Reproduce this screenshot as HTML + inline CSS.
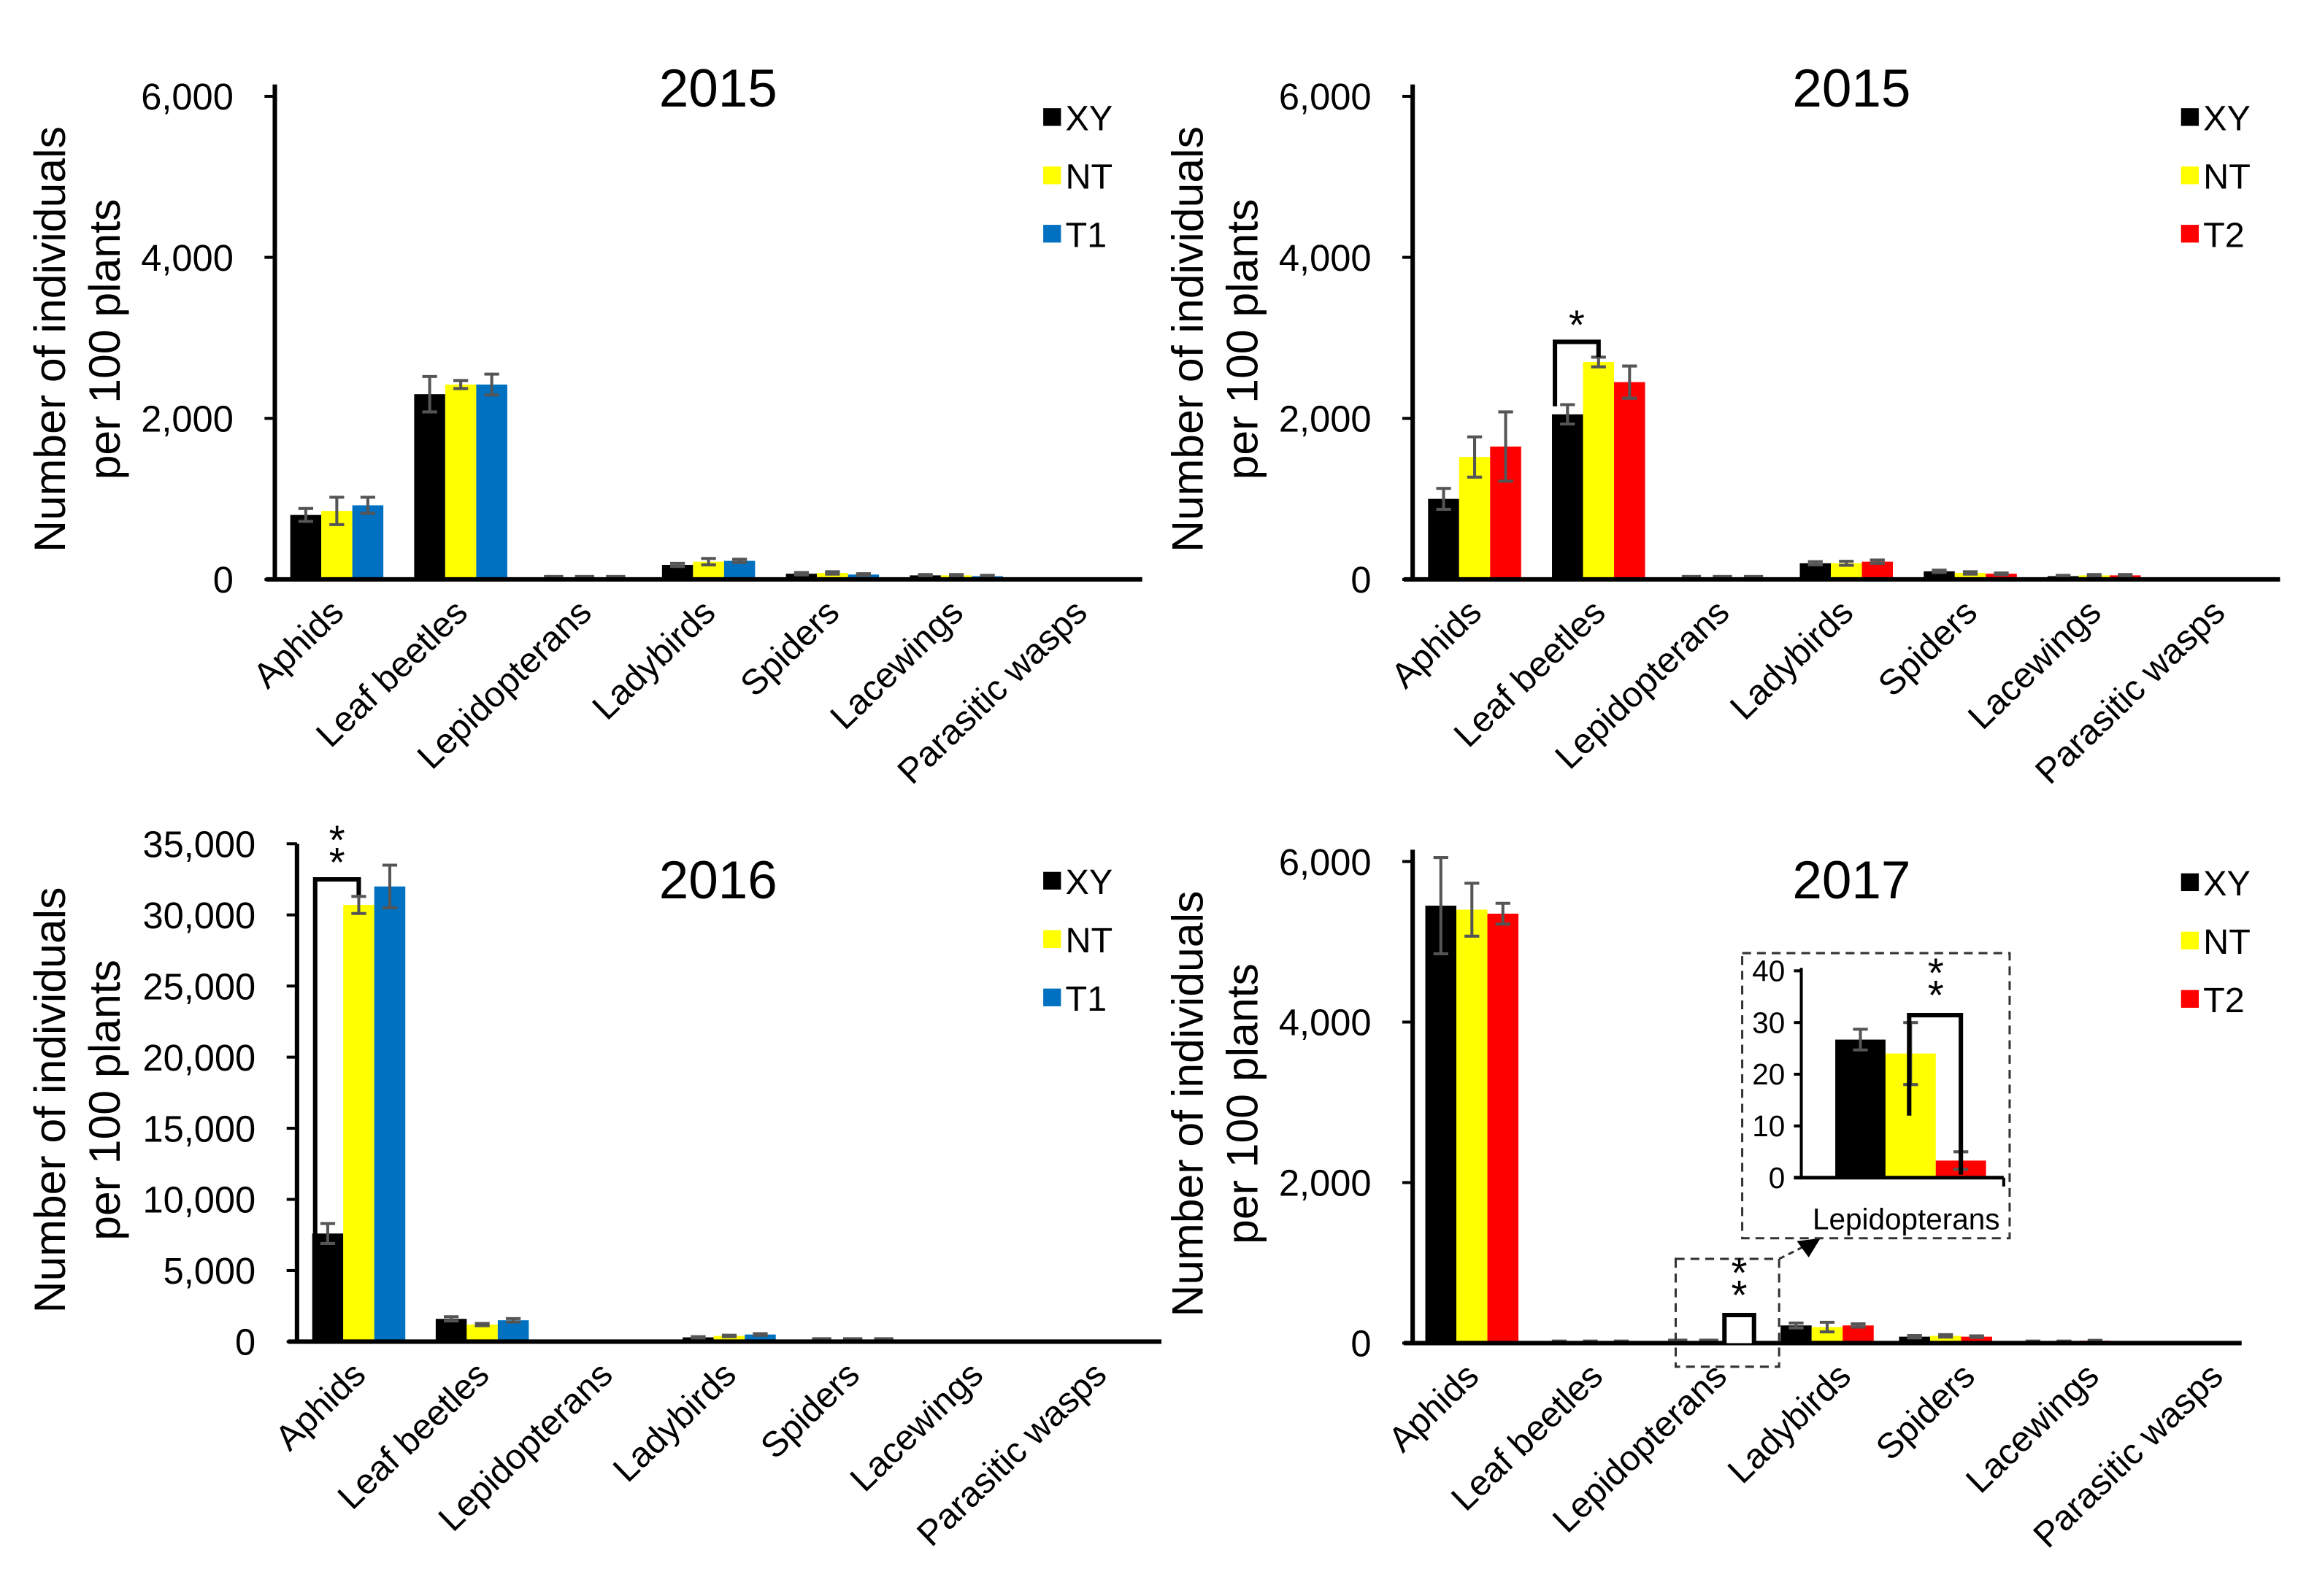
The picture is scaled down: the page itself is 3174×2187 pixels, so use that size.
<!DOCTYPE html>
<html><head><meta charset="utf-8"><style>
html,body{margin:0;padding:0;background:#fff;}
svg{display:block;}
text{font-family:"Liberation Sans",Arial,sans-serif;fill:#000;}
</style></head><body>
<svg id="fig" width="3174" height="2187" viewBox="0 0 1568 1080" xmlns="http://www.w3.org/2000/svg"></svg>
<script>
const categories = ["Aphids","Leaf beetles","Lepidopterans","Ladybirds","Spiders","Lacewings","Parasitic wasps"];
const seriesA = ["XY","NT","T1"];
const seriesB = ["XY","NT","T2"];
// 2015 (T1)
const p1XY = [800,2300,20,180,70,50,0];
const p1NT = [850,2420,10,220,80,50,0];
const p1T1 = [920,2420,10,230,60,40,0];
const p1XYerr = [80,220,0,20,15,10,0];
const p1NTerr = [170,50,0,40,15,10,0];
const p1T1err = [100,130,0,20,10,10,0];
// 2015 (T2)
const p2XY = [1000,2050,10,200,100,40,0];
const p2NT = [1520,2700,5,200,80,50,0];
const p2T2 = [1650,2450,5,220,70,50,0];
const p2XYerr = [130,120,0,20,15,10,0];
const p2NTerr = [250,60,0,25,15,10,0];
const p2T2err = [430,200,0,20,10,10,0];
// 2016 (T1)
const p3XY = [7600,1600,0,300,50,0,0];
const p3NT = [30700,1200,0,400,30,0,0];
const p3T1 = [32000,1500,0,500,30,0,0];
const p3XYerr = [700,150,0,50,0,0,0];
const p3NTerr = [600,80,0,50,0,0,0];
const p3T1err = [1500,120,0,60,0,0,0];
// 2017 (T2)
const p4XY = [5450,20,27,220,80,20,0];
const p4NT = [5400,20,24,200,90,20,0];
const p4T2 = [5350,20,3,220,80,30,0];
const p4XYerr = [600,5,0,30,15,5,0];
const p4NTerr = [330,5,0,60,15,5,0];
const p4T2err = [130,5,0,20,10,5,0];
// inset 2017 Lepidopterans
const insetValues = [26.7,24,3.3];
const insetErr = [2,6,1.7];
const insetTicks = [0,10,20,30,40];
const ticks6000 = [0,2000,4000,6000];
const ticks35000 = [0,5000,10000,15000,20000,25000,30000,35000];

const NS="http://www.w3.org/2000/svg";
const svg=document.getElementById('fig');
function el(tag,attrs,parent){const e=document.createElementNS(NS,tag);for(const k in attrs)e.setAttribute(k,attrs[k]);(parent||svg).appendChild(e);return e;}
function fmt(v){return v.toLocaleString('en-US');}

function panel(cfg){
  const g=el('g',{});
  
  
  const max=cfg.ticks[cfg.ticks.length-1];
  const y=v=>cfg.y0-(v/max)*(cfg.y0-cfg.yTop);
  const band=(cfg.x1-cfg.x0)/categories.length;
  const bw=21;
  const xc=i=>cfg.x0+band*(i+0.5);
  const bx=(i,s)=>xc(i)-1.5*bw+s*bw;
  cfg.values.forEach((arr,s)=>{
    arr.forEach((v,i)=>{
      if(v<=0)return;
      const r=el('rect',{x:bx(i,s),y:y(v),width:bw,height:cfg.y0-y(v),fill:cfg.colors[s]},g);
      
      
      const e=cfg.errs[s][i];
      if(e>0){
        const cx=bx(i,s)+bw/2;
        const eb=el('path',{d:`M${cx-5} ${y(v+e)}H${cx+5}M${cx} ${y(v+e)}V${y(Math.max(0,v-e))}M${cx-5} ${y(Math.max(0,v-e))}H${cx+5}`,stroke:'#555','stroke-width':2,fill:'none'},g);
        
        
      } else if(v>0 && v<max*0.01){
        el('rect',{x:bx(i,s)+4,y:cfg.y0-3,width:bw-8,height:3,fill:'#555'},g);
      }
    });
  });
  const ya=el('line',{x1:cfg.x0,y1:cfg.axTop,x2:cfg.x0,y2:cfg.y0+1,stroke:'#000','stroke-width':3},g);
  
  
  const xa=el('line',{x1:cfg.x0-6,y1:cfg.y0,x2:cfg.x1,y2:cfg.y0,stroke:'#000','stroke-width':3},g);
  
  
  cfg.ticks.forEach(t=>{
    el('line',{x1:cfg.x0-7,y1:y(t),x2:cfg.x0,y2:y(t),stroke:'#000','stroke-width':2},g);
    const tx=el('text',{x:cfg.x0-28,y:y(t)+9,'text-anchor':'end','font-size':25},g);
    tx.textContent=fmt(t);
    
    
  });
  const lo=cfg.labelOffset||0;
  categories.forEach((c,i)=>{
    const tx=el('text',{x:0,y:0,'text-anchor':'end','font-size':24,transform:`translate(${xc(i)+6+lo*i},${cfg.y0+24}) rotate(-44)`},g);
    tx.textContent=c;
    
    
  });
  const mid=(cfg.axTop+cfg.y0)/2+5;
  const t1=el('text',{x:0,y:0,'text-anchor':'middle','font-size':30,transform:`translate(${cfg.ytX},${mid}) rotate(-90)`},g);
  t1.textContent='Number of individuals';
  
  
  const t2=el('text',{x:0,y:0,'text-anchor':'middle','font-size':30,transform:`translate(${cfg.ytX+37},${mid}) rotate(-90)`},g);
  t2.textContent='per 100 plants';
  
  
  const ti=el('text',{x:cfg.titleX,y:cfg.titleY,'text-anchor':'middle','font-size':36},g);
  ti.textContent=cfg.title;
  
  
  cfg.series.forEach((s,k)=>{
    const ly=cfg.legY+k*39.5;
    const sq=el('rect',{x:cfg.legX,y:ly-6,width:12,height:12,fill:cfg.colors[k]},g);
    
    
    const lt=el('text',{x:cfg.legX+15,y:ly+9,'font-size':24},g);
    lt.textContent=s;
    
    
  });
  return {y,bx,bw,g,xc};
}

const P1=panel({name:'panel-2015-t1',x0:186,x1:773,axTop:57,yTop:65,y0:392,ticks:ticks6000,values:[p1XY,p1NT,p1T1],errs:[p1XYerr,p1NTerr,p1T1err],colors:['#000','#ffff00','#0070c0'],series:seriesA,title:'2015',titleX:486,titleY:72,legX:706,legY:79,ytX:44});
const P2=panel({name:'panel-2015-t2',x0:956,x1:1543,axTop:57,yTop:65,y0:392,ticks:ticks6000,values:[p2XY,p2NT,p2T2],errs:[p2XYerr,p2NTerr,p2T2err],colors:['#000','#ffff00','#ff0000'],series:seriesB,title:'2015',titleX:1253,titleY:72,legX:1476,legY:79,ytX:814});
const P3=panel({name:'panel-2016-t1',x0:201,x1:786,axTop:571,yTop:571,y0:908,ticks:ticks35000,values:[p3XY,p3NT,p3T1],errs:[p3XYerr,p3NTerr,p3T1err],colors:['#000','#ffff00','#0070c0'],series:seriesA,title:'2016',titleX:486,titleY:608,legX:706,legY:596,ytX:44});
const P4=panel({name:'panel-2017-t2',x0:956,x1:1517,labelOffset:3.8,axTop:575,yTop:583,y0:909,ticks:ticks6000,values:[p4XY,p4NT,p4T2],errs:[p4XYerr,p4NTerr,p4T2err],colors:['#000','#ffff00','#ff0000'],series:seriesB,title:'2017',titleX:1253,titleY:608,legX:1476,legY:597,ytX:814});

function bracket(P,i,yTopV,yLv,yRv,stars){
  const xl=P.bx(i,0)+2, xr=P.bx(i,1)+P.bw/2;
  const b=el('path',{d:`M${xl} ${P.y(yLv)}V${P.y(yTopV)}H${xr}V${P.y(yRv)}`,stroke:'#000','stroke-width':3,fill:'none'},P.g);
  
  
  stars.forEach((s,k)=>{
    const t=el('text',{x:(xl+xr)/2,y:P.y(yTopV)-2-k*15,'text-anchor':'middle','font-size':28},P.g);
    t.textContent='*';
    
    
  });
}
bracket(P2,1,2950,2150,2760,[1]);
bracket(P3,0,32500,6500,31400,[1,2]);

(function(){
  const g=P4.g;
  const db=el('rect',{x:1134,y:852,width:70,height:73,fill:'none',stroke:'#333','stroke-width':1.5,'stroke-dasharray':'6,4'},g);
  
  
  el('path',{d:'M1167 909V890H1187V909',stroke:'#000','stroke-width':3,fill:'#fff'},g);
  [0,1].forEach(k=>{const t=el('text',{x:1177,y:886-k*15,'text-anchor':'middle','font-size':28},g);t.textContent='*';});
  el('line',{x1:1204,y1:852,x2:1222,y2:843,stroke:'#333','stroke-width':1.5,'stroke-dasharray':'4,3'},g);
  el('path',{d:'M1232 838L1216 840L1224 851Z',fill:'#000'},g);
  const ib=el('rect',{x:1179,y:645,width:181,height:193,fill:'#fff',stroke:'#333','stroke-width':1.5,'stroke-dasharray':'6,4'},g);
  
  
  const ig=el('g',{},g);
  
  
  const iy0=797, iyT=657, imax=40;
  const iy=v=>iy0-(v/imax)*(iy0-iyT);
  const cols=['#000','#ffff00','#ff0000'];
  insetValues.forEach((v,s)=>{
    const x=1242+s*34;
    const r=el('rect',{x:x,y:iy(v),width:34,height:iy0-iy(v),fill:cols[s]},ig);
    
    
    const e=insetErr[s],cx=x+17;
    el('path',{d:`M${cx-5} ${iy(v+e)}H${cx+5}M${cx} ${iy(v+e)}V${iy(v-e)}M${cx-5} ${iy(v-e)}H${cx+5}`,stroke:'#555','stroke-width':2,fill:'none'},ig);
  });
  el('line',{x1:1219,y1:655,x2:1219,y2:iy0,stroke:'#000','stroke-width':2},ig);
  el('line',{x1:1214,y1:iy0,x2:1356,y2:iy0,stroke:'#000','stroke-width':2.5},ig);
  el('line',{x1:1356,y1:iy0,x2:1356,y2:iy0+6,stroke:'#000','stroke-width':2},ig);
  insetTicks.forEach(t=>{
    el('line',{x1:1214,y1:iy(t),x2:1219,y2:iy(t),stroke:'#000','stroke-width':2},ig);
    const tx=el('text',{x:1208,y:iy(t)+7,'text-anchor':'end','font-size':20},ig);
    tx.textContent=t;
    
    
  });
  const il=el('text',{x:1290,y:832,'text-anchor':'middle','font-size':20},ig);
  il.textContent='Lepidopterans';
  
  
  el('path',{d:`M1292 ${iy(12)}V687H1327V${iy0-2}`,stroke:'#000','stroke-width':3,fill:'none'},ig);
  [0,1].forEach(k=>{const t=el('text',{x:1310,y:683-k*15,'text-anchor':'middle','font-size':28},ig);t.textContent='*';});
})();
</script>
</body></html>
